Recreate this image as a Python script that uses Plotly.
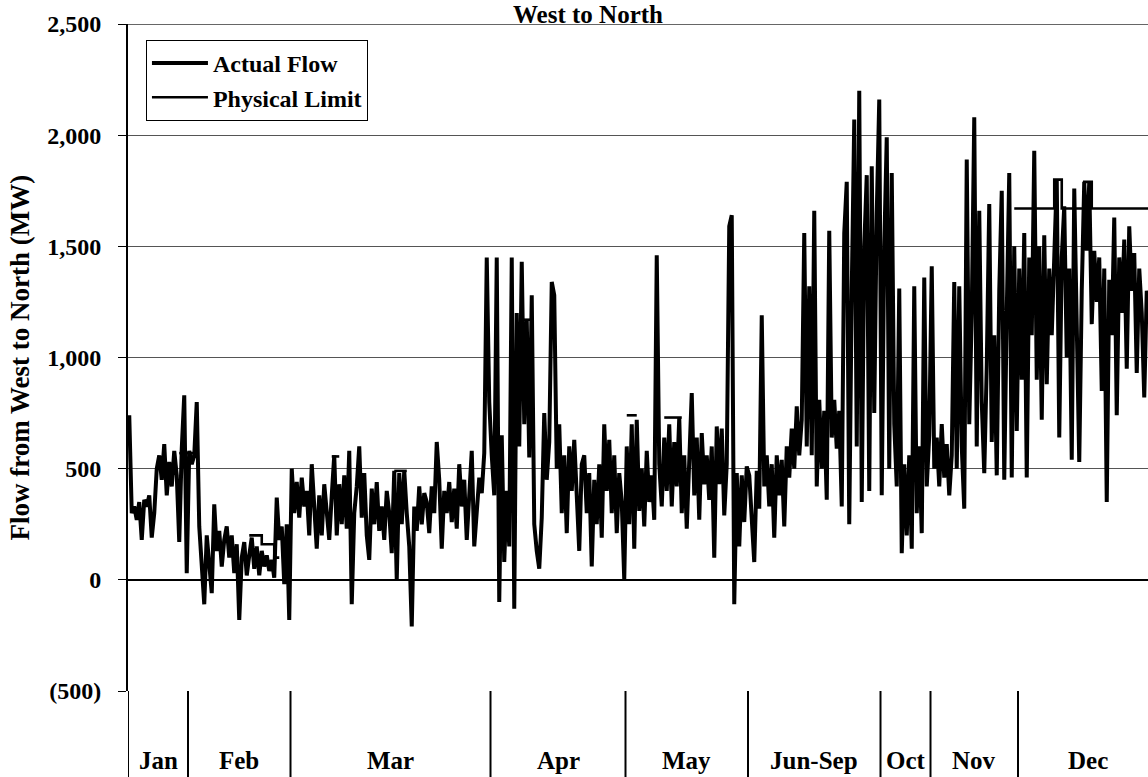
import plotly.graph_objects as go

# Month sections of the category axis (each point is one equal-width category)
months = ["Jan", "Feb", "Mar", "Apr", "May", "Jun-Sep", "Oct", "Nov", "Dec"]

# Actual flow from West to North (MW), one list per month section
jan_flow = [740, 300, 330, 270, 350, 180, 360, 330, 380, 190, 300, 500,
            560, 450, 610, 380, 530, 420, 580, 470, 170, 590, 830, 30]
feb_flow = [580, 520, 560, 800, 240, 30, -110, 200, 80, -60, 340, 130,
            220, 60, 180, 240, 100, 200, 30, 160, -180, 100, 170, 20,
            110, 190, 50, 150, 20, 130, 60, 110, 40, 90, 10, 370,
            180, 240, -20, 250, -180]
mar_flow = [500, 300, 440, 280, 460, 330, 400, 200, 520, 330, 140, 380,
            200, 430, 280, 180, 380, 560, 200, 430, 250, 470, 230, 580,
            -110, 300, 420, 600, 280, 480, 200, 90, 410, 250, 440, 220,
            330, 180, 400, 300, 120, 490, 0, 480, 250, 490, 300, 150,
            -210, 330, 220, 420, 250, 390, 350, 210, 420, 300, 620, 450,
            140, 400, 300, 440, 260, 410, 230, 520, 330, 450, 180, 400,
            580, 150, 330, 460, 390, 570, 1450, 800]
apr_flow = [560, 380, 1450, -100, 650, 80, 400, 150, 1450, -130, 1200, 600,
            1430, 700, 1170, 550, 1280, 250, 130, 50, 280, 750, 450, 620,
            1340, 1280, 500, 700, 300, 560, 210, 600, 400, 630, 380, 130,
            520, 560, 300, 480, 60, 450, 250, 520, 190, 700, 400, 630,
            300, 560, 210, 480, 350, 0]
may_flow = [600, 250, 700, 140, 720, 310, 500, 240, 580, 350, 470, 270,
            1460, 520, 330, 640, 400, 700, 330, 620, 420, 730, 300, 560,
            230, 600, 840, 380, 640, 270, 660, 430, 560, 360, 600, 100,
            690, 430, 680, 290, 520, 1590, 1640, -110, 480, 150, 470, 260,
            510]
jun_sep_flow = [470, 300, 80, 490, 320, 1190, 420, 560, 330, 520, 190, 560,
                380, 540, 240, 600, 460, 680, 500, 780, 560, 720, 1560, 600,
                1320, 560, 1660, 420, 810, 500, 760, 360, 1570, 640, 810, 590,
                760, 330, 1560, 1790, 250, 1300, 2070, 600, 2200, 350, 1500, 1820,
                400, 1860, 750, 1650, 2160]
oct_flow = [380, 1500, 1990, 500, 1830, 700, 420, 1310, 120, 520, 200, 560,
            140, 1320, 300, 600, 210, 1360, 420, 650]
nov_flow = [1410, 500, 640, 420, 700, 460, 610, 380, 560, 1340, 500, 1320,
            600, 320, 1890, 700, 1200, 2080, 600, 1660, 800, 480, 960, 1690,
            620, 1100, 470, 1300, 1750, 450, 1200, 1830, 460, 1500, 670]
dec_flow = [1400, 900, 1560, 460, 1450, 1100, 1930, 900, 1500, 720, 1550, 880,
            1400, 1100, 1500, 1800, 640, 1450, 1680, 1000, 1400, 540, 1760, 1100,
            530, 1300, 1790, 1480, 1790, 1150, 1480, 1250, 1450, 850, 1400, 350,
            1350, 1100, 1630, 740, 1450, 1200, 1530, 950, 1590, 1300, 1470, 930,
            1400, 1200, 820, 1300, 1250, 1100, 1350, 1200]

# Physical transfer limit (MW); None where no limit is reported
N = None
jan_limit = [N] * 20 + [570, 570, 570, 570]
feb_limit = [570, 570, 570, 570] + [N] * 20 + [200] * 5 + [160] * 5 + [100] * 3 + [N] * 4
mar_limit = [N] * 16 + [555] * 4 + [N] * 21 + [490] * 6 + [N] * 33
apr_limit = [N] * 11 + [1170] * 6 + [N] * 37
may_limit = [740] * 5 + [N] * 10 + [730] * 8 + [N] * 26
jun_sep_limit = [N] * 53
oct_limit = [N] * 20
nov_limit = [N] * 33 + [1670, 1670]
dec_limit = ([1670] * 14 + [1800] * 3 + [1670] * 9 + [1790] * 3 + [1670] * 27)

flow_sections = [jan_flow, feb_flow, mar_flow, apr_flow, may_flow,
                 jun_sep_flow, oct_flow, nov_flow, dec_flow]
limit_sections = [jan_limit, feb_limit, mar_limit, apr_limit, may_limit,
                  jun_sep_limit, oct_limit, nov_limit, dec_limit]

y_ticks = [-500, 0, 500, 1000, 1500, 2000, 2500]
y_tick_text = ["(500)", "0", "500", "1,000", "1,500", "2,000", "2,500"]

flow = [v for sec in flow_sections for v in sec]
limit = [v for sec in limit_sections for v in sec]
xs = [i + 0.5 for i in range(len(flow))]

# section boundaries in category units
bounds = [0]
for sec in flow_sections:
    bounds.append(bounds[-1] + len(sec))

X_MAX = 408
FONT = "Liberation Serif"

fig = go.Figure()
fig.add_trace(go.Scatter(x=xs, y=flow, mode="lines", name="Actual Flow",
                         line=dict(color="black", width=4)))
fig.add_trace(go.Scatter(x=xs, y=limit, mode="lines", name="Physical Limit",
                         line=dict(color="black", width=2.6, shape="hv"),
                         connectgaps=False))

shapes = []
box_depth = -0.2
for b in bounds:
    shapes.append(dict(type="line", xref="x", yref="paper", x0=b, x1=b,
                       y0=box_depth, y1=0, line=dict(color="black", width=2)))
shapes.append(dict(type="line", xref="paper", yref="y", x0=0, x1=1,
                   y0=2500, y1=2500, line=dict(color="#333333", width=1.5)))

annotations = []
for name, a, b in zip(months, bounds[:-1], bounds[1:]):
    annotations.append(dict(x=(a + b) / 2, xref="x", y=-0.104, yref="paper",
                            text=name, showarrow=False, xanchor="center",
                            yanchor="middle",
                            font=dict(family=FONT, size=25, color="black",
                                      weight="bold")))
annotations.append(dict(x=-0.106, xref="paper", y=0.5, yref="paper",
                        text="Flow from West to North (MW)", textangle=-90,
                        showarrow=False, xanchor="center", yanchor="middle",
                        font=dict(family=FONT, size=27, color="black",
                                  weight="bold")))
# chart title, in the strip above the plot frame
annotations.append(dict(x=0.451, xref="paper", y=0.993, yref="paper",
                        text="West to North", showarrow=False,
                        xanchor="center", yanchor="bottom", borderpad=0,
                        font=dict(family=FONT, size=25, color="black",
                                  weight="bold")))

fig.update_layout(
    width=1148, height=777,
    margin=dict(l=128, r=0, t=24, b=86, pad=0),
    paper_bgcolor="white", plot_bgcolor="white",
    showlegend=True,
    legend=dict(x=0.0176, y=0.976, xanchor="left", yanchor="top",
                bgcolor="white", bordercolor="black", borderwidth=1,
                itemwidth=56,
                font=dict(family=FONT, size=24, color="black", weight="bold"),
                tracegroupgap=0),
    xaxis=dict(range=[0, X_MAX], showticklabels=False, showgrid=False,
               zeroline=False, showline=False, ticks=""),
    yaxis=dict(range=[-500, 2500], tickvals=y_ticks, ticktext=y_tick_text,
               ticks="outside", ticklen=8, tickcolor="black", tickwidth=1,
               ticklabelstandoff=12,
               showgrid=True, gridcolor="#555555", gridwidth=1,
               zeroline=True, zerolinecolor="black", zerolinewidth=2,
               showline=True, linecolor="black", linewidth=2,
               tickfont=dict(family=FONT, size=24, color="black",
                             weight="bold")),
    shapes=shapes,
    annotations=annotations,
)

fig.write_html("out.html")
